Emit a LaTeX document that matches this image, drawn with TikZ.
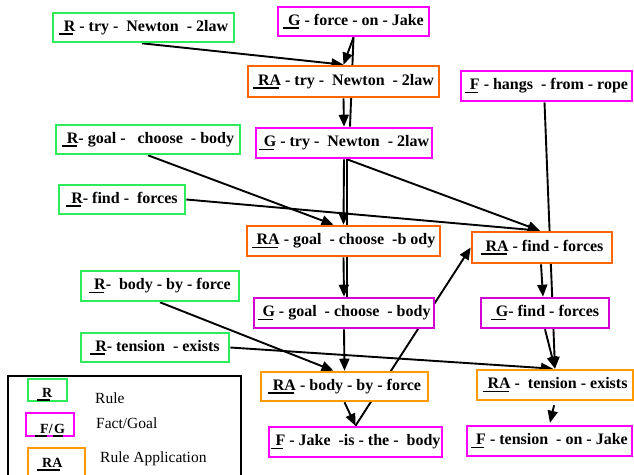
\documentclass[tikz,border=0pt]{standalone}
\usepackage{fontspec}
\setmainfont{Liberation Serif}
\usetikzlibrary{arrows.meta}
\pgfdeclarelayer{back}
\pgfdeclarelayer{bg}
\pgfsetlayers{back,bg,main}
\definecolor{rgreen}{RGB}{45,235,90}
\definecolor{fmag}{RGB}{255,0,255}
\definecolor{gmag}{RGB}{210,0,210}
\definecolor{raorange}{RGB}{255,102,0}
\definecolor{ralight}{RGB}{255,153,0}
\newcommand\ulx[2][5pt]{\setbox0\hbox{#2}\rlap{\rule[-3.5pt]{\dimexpr\wd0+#1-2pt\relax}{1.6pt}}\kern#1\box0\relax}
\tikzset{
  box/.style={draw=#1, fill=white, line width=2.6pt, inner sep=0pt,
    font=\bfseries\fontsize{16pt}{19pt}\selectfont},
  bx/.style 2 args={minimum width=#1pt, minimum height=#2pt},
  link/.style={line width=1.9pt, -{Triangle[length=12pt,width=10pt]}},
  plain/.style={line width=1.9pt},
  lgtext/.style={anchor=base west, inner sep=0pt, font=\fontsize{15.5pt}{18pt}\selectfont},
  lglabel/.style={anchor=base west, inner sep=0pt, font=\bfseries\fontsize{14pt}{17pt}\selectfont}
}
\begin{document}
\begin{tikzpicture}[x=1pt,y=-1pt]
\clip (0,0) rectangle (634,474);
\begin{pgfonlayer}{back}
\fill[white] (0,0) rectangle (634,474);
\end{pgfonlayer}
% nodes
\node[box=rgreen, bx={181}{29}] (Rtry) at (143.5,27.5) {\ulx{R}\ - try - \ Newton \ - 2law};
\node[box=fmag, bx={151}{29}] (Gforce) at (353.5,21.5) {\ulx{G} - force - on - Jake};
\node[box=raorange, bx={191}{31}] (RAtry) at (343.5,81.5) {\ulx{RA} - try - \ Newton \ - 2law};
\node[box=fmag, bx={171}{30}] (Fhangs) at (546.5,86) {\ulx{F} - hangs \ - from - rope};
\node[box=rgreen, bx={184}{29}] (Rgoal) at (148,139.5) {\ulx{R}- goal - \ \ choose \ - body};
\node[box=fmag, bx={176}{30}] (Gtry) at (344,143) {\ulx{G} - try - \ Newton \ - 2law};
\node[box=rgreen, bx={126}{29}] (Rfind) at (122,199.5) {\ulx{R}- find - \ forces};
\node[box=raorange, bx={193}{30}] (RAgoal) at (343.5,241) {\ulx{RA} - goal \ - choose \ -b ody};
\node[box=raorange, bx={140}{31}] (RAfind) at (542,247.5) {\ulx{RA} - find - forces};
\node[box=rgreen, bx={158}{30}] (Rbody) at (160,286) {\ulx{R}- \ body - by - force};
\node[box=gmag, bx={180}{30}] (Ggoal) at (344,313) {\ulx{G} - goal \ - choose \ - body};
\node[box=gmag, bx={128}{30}] (Gfind) at (545,313) {\ulx{G}- find - forces};
\node[box=rgreen, bx={148}{29}] (Rtension) at (155,347.5) {\ulx{R}- tension \ - exists};
\node[box=ralight, bx={167}{29}] (RAbody) at (344.5,386.5) {\ulx{RA} - body - by - force};
\node[box=ralight, bx={156}{30}] (RAtension) at (555,385) {\ulx{RA} - \ tension - exists};
\node[box=fmag, bx={173}{30}] (FJake) at (355.5,442) {\ulx{F} - Jake \ -is - the - \ body};
\node[box=fmag, bx={165}{30}] (Ftension) at (549.5,441) {\ulx{F} - tension \ - on - Jake};
% legend
\node[draw=black, line width=1.6pt, minimum width=233pt, minimum height=104pt, inner sep=0pt] (legend) at (124.5,428) {};
\node[box=rgreen, line width=2.4pt, bx={39}{22}] (lgR) at (47.5,390) {};
\node[box=fmag, line width=2.4pt, bx={48}{23}] (lgFG) at (50,424.5) {};
\node[box=ralight, line width=2.4pt, bx={57}{29}] (lgRA) at (56.5,462.5) {};
\node[lglabel] (lgRt) at (37,397) {\ulx{R}};
\node[lglabel] (lgFGt) at (35,433) {\ulx{F}/\ulx[1.5pt]{G}};
\node[lglabel] (lgRAt) at (37,467) {\ulx{RA}};
\node[lgtext] (lgRule) at (95,403) {Rule};
\node[lgtext] (lgFact) at (96,428) {Fact/Goal};
\node[lgtext] (lgApp) at (100,462) {Rule Application};
% connectors
\begin{pgfonlayer}{bg}
\draw[link] ([xshift=-1.5pt]Rtry.south) -- (RAtry.north);
\draw[link] (Gforce.south) -- (RAtry.north);
\draw[plain] (Gforce.south) -- ([xshift=6pt]Gtry.north);
\draw[link] (RAtry.south) -- (Gtry.north);
\draw[link] (Gtry.south) -- (RAgoal.north);
\draw[plain] ([xshift=3pt]Gtry.south) -- ([xshift=3pt]Ggoal.north);
\draw[link] (RAgoal.south) -- (Ggoal.north);
\draw[link] (Ggoal.south) -- (RAbody.north);
\draw[link] ([xshift=3pt]Gtry.south) -- ([xshift=-2pt]RAfind.north);
\draw[link] (Rgoal.south) -- ([xshift=-10pt]RAgoal.north);
\draw[link] (Rfind.east) -- ([xshift=-2pt]RAfind.north);
\draw[link] ([xshift=-2pt]Fhangs.south) -- (RAtension.north);
\draw[link] ([xshift=-1pt]RAfind.south) -- ([xshift=-2pt]Gfind.north);
\draw[link] (Gfind.south) -- (RAtension.north);
\draw[link] (Rbody.south) -- ([xshift=-11pt]RAbody.north);
\draw[link] (Rtension.east) -- ([xshift=-2pt]RAtension.north);
\draw[link] (RAbody.south) -- (FJake.north);
\draw[link] (FJake.north) -- (RAfind.west);
\draw[link, shorten <=4pt, shorten >=2pt] (RAtension.south) -- (Ftension.north);
\end{pgfonlayer}
\end{tikzpicture}
\end{document}
